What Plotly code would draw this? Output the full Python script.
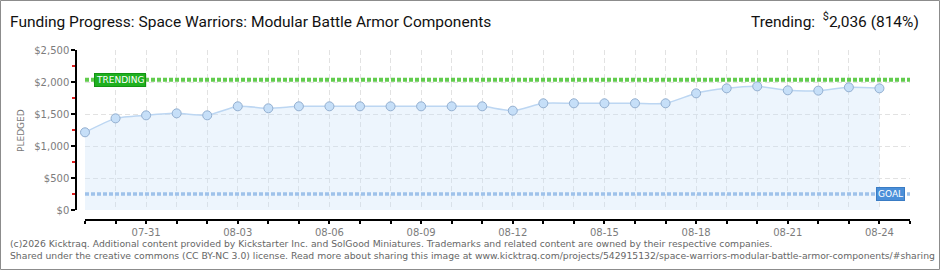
import plotly.graph_objects as go

# ---------------- data ----------------
dates = [
    "2025-07-29", "2025-07-30", "2025-07-31", "2025-08-01", "2025-08-02",
    "2025-08-03", "2025-08-04", "2025-08-05", "2025-08-06", "2025-08-07",
    "2025-08-08", "2025-08-09", "2025-08-10", "2025-08-11", "2025-08-12",
    "2025-08-13", "2025-08-14", "2025-08-15", "2025-08-16", "2025-08-17",
    "2025-08-18", "2025-08-19", "2025-08-20", "2025-08-21", "2025-08-22",
    "2025-08-23", "2025-08-24",
]
pledged = [
    1214, 1432, 1479, 1510, 1479,
    1620, 1589, 1620, 1620, 1620,
    1620, 1620, 1620, 1620, 1552,
    1667, 1667, 1667, 1667, 1667,
    1823, 1901, 1932, 1870, 1865,
    1917, 1901,
]
goal = 250
trending = 2036
trending_pct = 814
y_range = [0, 2500]
x_range = ["2025-07-29", "2025-08-25"]
first_label_date = "2025-07-31"

title_text = "Funding Progress: Space Warriors: Modular Battle Armor Components"
footer1 = ("(c)2026 Kicktraq. Additional content provided by Kickstarter Inc. and SolGood Miniatures. "
           "Trademarks and related content are owned by their respective companies.")
footer2 = ("Shared under the creative commons (CC BY-NC 3.0) license. Read more about sharing this image at "
           "www.kicktraq.com/projects/542915132/space-warriors-modular-battle-armor-components/#sharing")

# ---------------- layout geometry (pixels) ----------------
W, H = 940, 270
ML, MR, MT, MB = 76, 30, 50, 50
PW = W - ML - MR   # paper width
PH = H - MT - MB   # paper height


def px_x(px):
    return (px - ML) / PW


def px_y(py):
    return (H - MB - py) / PH


DAY = 86400000
GRID = "#e2e2e2"
TICKFONT = dict(family="DejaVu Sans", size=10, color="#7c7c7c")

fig = go.Figure()

fig.add_trace(go.Scatter(
    x=dates, y=pledged, mode="lines+markers",
    line=dict(color="#bcd6f2", width=1.5, shape="spline", smoothing=0.6),
    marker=dict(size=9, color="#c6dff8", line=dict(color="#93afd0", width=1)),
    fill="tozeroy", fillcolor="rgba(200,225,250,0.32)",
    cliponaxis=False, hoverinfo="x+y",
))
# invisible trace to anchor the outer axes
fig.add_trace(go.Scatter(
    x=dates, y=pledged, xaxis="x2", yaxis="y2", mode="markers",
    marker=dict(opacity=0), hoverinfo="skip",
))

fig.update_layout(
    width=W, height=H,
    margin=dict(l=ML, r=MR, t=MT, b=MB),
    paper_bgcolor="white", plot_bgcolor="white",
    showlegend=False,
    xaxis=dict(
        domain=[9 / PW, 1], type="date", range=x_range,
        showgrid=True, gridcolor=GRID, griddash="5px,3px", gridwidth=1,
        dtick=DAY, tick0=x_range[0], showticklabels=False, ticks="",
        showline=False, zeroline=False,
    ),
    yaxis=dict(
        domain=[10 / PH, 1], range=y_range, dtick=500,
        showgrid=True, gridcolor=GRID, griddash="5px,3px", gridwidth=1,
        showticklabels=False, ticks="", zeroline=False, showline=False,
    ),
    xaxis2=dict(
        overlaying="x", anchor="free", position=0, type="date", range=x_range,
        showgrid=False, zeroline=False, showline=True, linecolor="black", linewidth=1.5,
        ticks="outside", ticklen=3, tickwidth=1.5, tickcolor="black",
        dtick=3 * DAY, tick0=first_label_date, tickformat="%m-%d", tickfont=TICKFONT,
        minor=dict(dtick=DAY, tick0=x_range[0], ticks="outside", ticklen=3,
                   tickwidth=1.5, tickcolor="black", showgrid=False),
    ),
    yaxis2=dict(
        overlaying="y", anchor="free", position=0, side="left", range=y_range,
        showgrid=False, zeroline=False, showline=True, linecolor="black", linewidth=1.5,
        ticks="outside", ticklen=4, tickwidth=1.5, tickcolor="black",
        dtick=500, tickprefix="$", tickformat=",", tickfont=TICKFONT,
        minor=dict(dtick=250, ticks="outside", ticklen=3, tickwidth=1.5,
                   tickcolor="#e02020", showgrid=False),
    ),
)

# trending and goal lines
fig.add_shape(type="line", xref="x domain", yref="y", x0=0, x1=1, y0=trending, y1=trending,
              line=dict(color="#62cc4e", width=4, dash="4px,2px"), layer="above")
fig.add_shape(type="line", xref="x domain", yref="y", x0=0, x1=1, y0=goal, y1=goal,
              line=dict(color="#9fc2ea", width=3.5, dash="4px,2px"), layer="above")

# outer border
fig.add_shape(type="rect", xref="paper", yref="paper",
              x0=px_x(0.5), x1=px_x(939.5), y0=px_y(269.5), y1=px_y(0.5),
              line=dict(color="#8c8c8c", width=1), layer="above")

ann = []
ann.append(dict(text="TRENDING", xref="paper", yref="y", x=px_x(94), y=trending,
                xanchor="left", yanchor="middle", showarrow=False,
                font=dict(family="DejaVu Sans", size=9, color="white"),
                bgcolor="#1fb01f", bordercolor="#149414", borderwidth=1, borderpad=1))
ann.append(dict(text="GOAL", xref="paper", yref="y", x=px_x(905), y=goal,
                xanchor="right", yanchor="middle", showarrow=False,
                font=dict(family="DejaVu Sans", size=9, color="white"),
                bgcolor="#4a8fd9", bordercolor="#3a7cc4", borderwidth=1, borderpad=1))
ann.append(dict(text=title_text, xref="paper", yref="paper", x=px_x(8), y=px_y(22),
                xanchor="left", yanchor="middle", showarrow=False,
                font=dict(family="Roboto", size=15.5, color="#111")))
ann.append(dict(text=f"Trending:  <sup>$</sup>{trending:,} ({trending_pct}%)",
                xref="paper", yref="paper", x=px_x(921), y=px_y(21),
                xanchor="right", yanchor="middle", showarrow=False,
                font=dict(family="Roboto", size=15.5, color="#111")))
ann.append(dict(text="PLEDGED", xref="paper", yref="paper", x=px_x(21), y=px_y(130),
                xanchor="center", yanchor="middle", textangle=-90, showarrow=False,
                font=dict(family="DejaVu Sans", size=9, color="#777")))
ann.append(dict(text=footer1, xref="paper", yref="paper", x=px_x(8), y=px_y(243),
                xanchor="left", yanchor="middle", showarrow=False,
                font=dict(family="DejaVu Sans", size=9.25, color="#666")))
ann.append(dict(text=footer2, xref="paper", yref="paper", x=px_x(8), y=px_y(256),
                xanchor="left", yanchor="middle", showarrow=False,
                font=dict(family="DejaVu Sans", size=9.25, color="#666")))
fig.update_layout(annotations=ann)

fig.write_html("out.html")
